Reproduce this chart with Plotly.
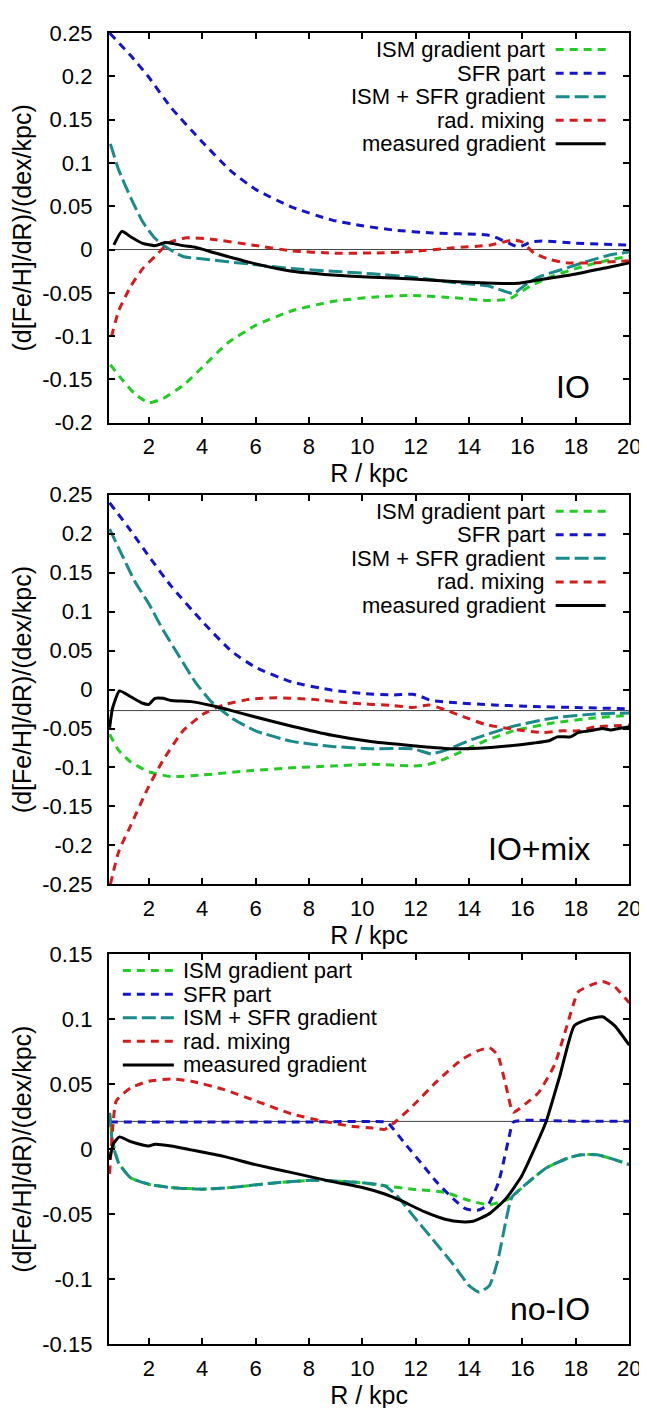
import plotly.graph_objects as go

# ---------------- data ----------------
# Panel 1 (IO)
p1_R_ism = [0.56, 1.02, 1.47, 2.0, 2.53, 3.28, 4.04, 4.95, 6.0, 7.36, 8.87, 10.38, 11.89, 13.4, 14.76, 15.52, 16.3, 17.2, 18.0, 18.7, 19.4, 20.0]
p1_ism = [-0.133, -0.151, -0.1665, -0.177, -0.172, -0.157, -0.135, -0.108, -0.0876, -0.0707, -0.060, -0.055, -0.053, -0.0556, -0.059, -0.057, -0.042, -0.030, -0.022, -0.016, -0.011, -0.008]
p1_R_sfr = [0.53, 1.32, 2.0, 2.83, 4.01, 5.10, 6.0, 7.36, 8.87, 10.0, 11.14, 12.65, 14.61, 14.92, 15.37, 15.85, 16.35, 16.73, 17.94, 20.0]
p1_sfr = [0.250, 0.224, 0.199, 0.164, 0.124, 0.090, 0.0695, 0.049, 0.034, 0.0275, 0.0226, 0.019, 0.017, 0.015, 0.009, 0.003, 0.009, 0.010, 0.0075, 0.005]
p1_R_tot = [0.56, 0.87, 1.32, 1.77, 2.23, 2.68, 3.28, 4.04, 5.85, 7.36, 8.87, 10.38, 11.89, 13.4, 14.69, 15.22, 15.67, 16.05, 16.58, 17.48, 18.39, 19.3, 20.0]
p1_tot = [0.122, 0.092, 0.060, 0.032, 0.013, 0.002, -0.008, -0.011, -0.017, -0.022, -0.025, -0.028, -0.032, -0.038, -0.042, -0.047, -0.051, -0.042, -0.032, -0.023, -0.014, -0.006, -0.003]
p1_R_mix = [0.6, 0.87, 1.32, 1.77, 2.23, 2.53, 2.83, 3.43, 4.34, 5.85, 7.36, 8.87, 10.38, 11.89, 13.4, 14.76, 15.67, 15.97, 16.43, 17.04, 17.63, 18.69, 20.0]
p1_mix = [-0.1007, -0.0707, -0.0425, -0.022, -0.008, 0.0015, 0.009, 0.0135, 0.012, 0.0053, -0.0015, -0.0041, -0.004, -0.0023, 0.002, 0.005, 0.011, 0.009, -0.004, -0.0117, -0.0154, -0.0154, -0.0128]
p1_R_meas = [0.69, 0.99, 1.32, 1.77, 2.23, 2.6, 2.9, 3.28, 3.74, 4.49, 5.85, 7.36, 8.87, 10.38, 11.89, 13.4, 14.92, 15.82, 16.43, 17.94, 19.15, 20.0]
p1_meas = [0.0053, 0.021, 0.0147, 0.0071, 0.0045, 0.008, 0.0071, 0.0045, 0.0026, -0.004, -0.0154, -0.025, -0.0293, -0.032, -0.034, -0.037, -0.039, -0.039, -0.036, -0.0286, -0.021, -0.0154]
p1_ref = 0.0

# Panel 2 (IO+mix)
p2_R_ism = [0.53, 0.87, 1.32, 2.0, 2.83, 4.01, 5.85, 7.36, 8.87, 10.38, 11.89, 12.34, 12.95, 13.7, 14.61, 15.67, 17.18, 18.69, 20.0]
p2_ism = [-0.0573, -0.078, -0.093, -0.1054, -0.1117, -0.1096, -0.104, -0.1004, -0.098, -0.096, -0.098, -0.097, -0.091, -0.080, -0.0657, -0.053, -0.0427, -0.0364, -0.033]
p2_R_sfr = [0.53, 1.32, 2.0, 2.83, 4.01, 5.10, 6.0, 7.36, 8.87, 10.0, 11.14, 11.89, 12.2, 12.57, 13.4, 14.92, 16.43, 17.94, 20.0]
p2_sfr = [0.2397, 0.204, 0.171, 0.133, 0.087, 0.049, 0.0285, 0.0096, -0.0008, -0.005, -0.007, -0.006, -0.009, -0.014, -0.0167, -0.0197, -0.0218, -0.023, -0.0247]
p2_R_tot = [0.53, 1.02, 1.47, 2.0, 2.53, 3.13, 3.74, 4.34, 5.10, 6.0, 7.36, 8.87, 10.38, 11.89, 12.57, 13.1, 14.15, 15.67, 17.18, 18.69, 20.0]
p2_tot = [0.206, 0.171, 0.139, 0.110, 0.0766, 0.043, 0.0096, -0.0155, -0.0364, -0.053, -0.0665, -0.073, -0.076, -0.076, -0.0824, -0.078, -0.0636, -0.0469, -0.0364, -0.0314, -0.030]
p2_R_mix = [0.56, 0.87, 1.32, 2.0, 2.53, 3.28, 4.04, 4.80, 5.85, 6.76, 8.1, 9.61, 11.14, 11.89, 12.5, 13.1, 13.85, 14.61, 15.67, 16.73, 17.48, 18.09, 18.69, 20.0]
p2_mix = [-0.25, -0.208, -0.1745, -0.124, -0.091, -0.053, -0.0314, -0.0197, -0.0121, -0.0105, -0.0126, -0.0176, -0.0205, -0.023, -0.0197, -0.026, -0.0356, -0.0448, -0.051, -0.0552, -0.053, -0.053, -0.048, -0.0456]
p2_R_meas = [0.53, 0.64, 0.9, 1.32, 1.77, 2.0, 2.23, 2.53, 2.83, 3.59, 4.34, 5.10, 5.85, 7.36, 8.87, 10.38, 11.89, 13.4, 14.92, 16.43, 17.0, 17.3, 17.8, 18.1, 18.5, 19.0, 19.3, 19.6, 20.0]
p2_meas = [-0.049, -0.024, -0.0017, -0.0092, -0.0176, -0.019, -0.0113, -0.0113, -0.014, -0.0155, -0.0205, -0.027, -0.034, -0.047, -0.0586, -0.067, -0.072, -0.076, -0.074, -0.0686, -0.0657, -0.0607, -0.0607, -0.055, -0.053, -0.050, -0.052, -0.050, -0.048]
p2_ref = -0.027

# Panel 3 (no-IO)
p3_R_ism = [0.53, 0.64, 0.87, 1.32, 2.0, 2.83, 4.01, 5.10, 6.6, 8.1, 9.6, 10.84, 11.89, 13.1, 14.0, 14.76, 15.5, 16.2, 16.9, 17.7, 18.2, 18.8, 19.45, 20.0]
p3_ism = [0.028, 0.007, -0.0106, -0.0219, -0.0269, -0.0294, -0.0307, -0.0294, -0.0261, -0.0239, -0.0251, -0.0281, -0.0307, -0.0332, -0.0394, -0.0427, -0.038, -0.0256, -0.0143, -0.0068, -0.0043, -0.0043, -0.008, -0.0118]
p3_R_sfr = [0.53, 4.0, 8.0, 10.84, 10.99, 11.59, 12.2, 12.8, 13.4, 13.86, 14.3, 14.7, 15.1, 15.5, 15.67, 18.0, 20.0]
p3_sfr = [0.021, 0.021, 0.021, 0.021, 0.0196, 0.0045, -0.0106, -0.0256, -0.038, -0.0457, -0.047, -0.043, -0.0256, 0.0095, 0.021, 0.0215, 0.0216]
p3_R_tot = [0.53, 0.64, 0.87, 1.32, 2.0, 2.83, 4.01, 5.10, 6.6, 8.1, 9.6, 10.84, 11.29, 11.89, 12.65, 13.4, 14.0, 14.38, 14.76, 15.07, 15.37, 15.6, 16.2, 16.9, 17.7, 18.2, 18.8, 19.45, 20.0]
p3_tot = [0.028, 0.0045, -0.0106, -0.022, -0.0269, -0.0294, -0.0307, -0.0294, -0.0261, -0.0239, -0.0251, -0.0281, -0.0357, -0.0508, -0.0696, -0.0884, -0.1048, -0.1098, -0.1048, -0.0859, -0.0558, -0.037, -0.0256, -0.0143, -0.0068, -0.0043, -0.0043, -0.008, -0.0118]
p3_R_mix = [0.53, 0.64, 0.78, 1.32, 2.0, 2.83, 3.59, 4.80, 6.0, 7.36, 8.57, 9.6, 10.38, 10.84, 11.29, 11.89, 12.8, 13.7, 14.3, 14.76, 15.07, 15.37, 15.65, 16.1, 16.6, 17.2, 17.63, 18.09, 18.54, 19.0, 19.45, 20.0]
p3_mix = [-0.019, 0.0146, 0.0372, 0.0472, 0.0523, 0.054, 0.0523, 0.046, 0.0372, 0.0271, 0.0214, 0.0176, 0.0163, 0.0153, 0.0221, 0.0334, 0.0523, 0.0686, 0.0754, 0.0779, 0.0724, 0.0497, 0.0284, 0.0347, 0.0435, 0.0648, 0.0925, 0.121, 0.126, 0.129, 0.125, 0.1126]
p3_R_meas = [0.53, 0.68, 0.9, 1.32, 1.77, 2.0, 2.23, 2.83, 3.59, 4.80, 6.0, 7.36, 8.87, 10.0, 10.84, 11.44, 12.34, 13.1, 13.7, 14.15, 14.76, 15.37, 15.97, 16.43, 16.88, 17.41, 17.94, 18.39, 19.0, 19.45, 20.0]
p3_meas = [-0.008, 0.0045, 0.0095, 0.0058, 0.0033, 0.0025, 0.0038, 0.0025, -0.0005, -0.0055, -0.0118, -0.018, -0.0249, -0.0294, -0.0344, -0.0394, -0.0482, -0.0538, -0.0558, -0.0553, -0.0495, -0.0382, -0.0206, -0.0005, 0.0209, 0.0573, 0.095, 0.0995, 0.1018, 0.095, 0.080]
p3_ref = 0.0214

series_names = ["ISM gradient part", "SFR part", "ISM + SFR gradient", "rad. mixing", "measured gradient"]
panel_labels = ["IO", "IO+mix", "no-IO"]
x_ticks = [2, 4, 6, 8, 10, 12, 14, 16, 18, 20]
y_ticks = [
    [0.25, 0.2, 0.15, 0.1, 0.05, 0, -0.05, -0.1, -0.15, -0.2],
    [0.25, 0.2, 0.15, 0.1, 0.05, 0, -0.05, -0.1, -0.15, -0.2, -0.25],
    [0.15, 0.1, 0.05, 0, -0.05, -0.1, -0.15],
]
y_ticktext = [
    ["0.25", "0.2", "0.15", "0.1", "0.05", "0", "-0.05", "-0.1", "-0.15", "-0.2"],
    ["0.25", "0.2", "0.15", "0.1", "0.05", "0", "-0.05", "-0.1", "-0.15", "-0.2", "-0.25"],
    ["0.15", "0.1", "0.05", "0", "-0.05", "-0.1", "-0.15"],
]
y_ranges = [[-0.2, 0.25], [-0.25, 0.25], [-0.15, 0.15]]
x_range = [0.5, 20]

# ---------------- styling ----------------
W, H = 647, 1408
FONT = "Liberation Sans, Arial, Helvetica, sans-serif"
colors = ["#22cc22", "#1414cc", "#1a8a8a", "#d41c1c", "#000000"]
dashes = ["8px,6px", "8px,6px", "14px,5px", "8px,6px", "solid"]
widths = [3, 3, 3, 3, 3]
TICK_SIZE = 22
LEG_SIZE = 22
TITLE_SIZE = 25

# plot-area pixel geometry
px_left, px_right = 102.7, 633.0
panel_px = [(13.3, 410.0), (483.3, 880.0), (951.0, 1348.3)]

panels = [
    dict(R=[p1_R_ism, p1_R_sfr, p1_R_tot, p1_R_mix, p1_R_meas], V=[p1_ism, p1_sfr, p1_tot, p1_mix, p1_meas], ref=p1_ref, legend="right"),
    dict(R=[p2_R_ism, p2_R_sfr, p2_R_tot, p2_R_mix, p2_R_meas], V=[p2_ism, p2_sfr, p2_tot, p2_mix, p2_meas], ref=p2_ref, legend="right"),
    dict(R=[p3_R_ism, p3_R_sfr, p3_R_tot, p3_R_mix, p3_R_meas], V=[p3_ism, p3_sfr, p3_tot, p3_mix, p3_meas], ref=p3_ref, legend="left"),
]

fig = go.Figure()
layout = dict(
    width=W, height=H,
    margin=dict(l=0, r=0, t=0, b=0),
    paper_bgcolor="white", plot_bgcolor="white",
    showlegend=False,
    font=dict(family=FONT, size=TICK_SIZE, color="black"),
)
annotations = []
shapes = []

for i, p in enumerate(panels):
    n = "" if i == 0 else str(i + 1)
    xa, ya = "x" + n, "y" + n
    top, bot = panel_px[i]
    # reference line
    fig.add_trace(go.Scatter(x=x_range, y=[p["ref"], p["ref"]], mode="lines",
                             line=dict(color="#444444", width=1), xaxis=xa, yaxis=ya,
                             hoverinfo="skip"))
    for k in range(5):
        fig.add_trace(go.Scatter(
            x=p["R"][k], y=p["V"][k], mode="lines", name=series_names[k],
            line=dict(color=colors[k], width=widths[k], dash=dashes[k],
                      shape="spline", smoothing=0.5),
            xaxis=xa, yaxis=ya))
    layout["xaxis" + n] = dict(
        domain=[px_left / W, px_right / W], anchor=ya, range=x_range,
        tickvals=x_ticks, ticktext=[str(t) for t in x_ticks],
        ticks="inside", ticklen=6, tickwidth=1.5, tickcolor="black",
        showline=True, linewidth=2, linecolor="black", mirror="ticks",
        showgrid=False, zeroline=False,
        tickfont=dict(family=FONT, size=TICK_SIZE),
        ticklabelstandoff=3,
        title=dict(text="R / kpc", font=dict(family=FONT, size=TITLE_SIZE), standoff=4),
    )
    layout["yaxis" + n] = dict(
        domain=[1 - bot / H, 1 - top / H], anchor=xa, range=y_ranges[i],
        tickvals=y_ticks[i], ticktext=y_ticktext[i],
        ticks="inside", ticklen=6, tickwidth=1.5, tickcolor="black",
        showline=True, linewidth=2, linecolor="black", mirror="ticks",
        showgrid=False, zeroline=False,
        tickfont=dict(family=FONT, size=TICK_SIZE),
        ticklabelstandoff=10,
        title=dict(text="(d[Fe/H]/dR)/(dex/kpc)", font=dict(family=FONT, size=TITLE_SIZE), standoff=6),
    )
    ph = bot - top
    pw = px_right - px_left
    # manual legend (text + line sample)
    for k in range(5):
        yd = 1 - (16.8 + 24.0 * k) / ph
        if p["legend"] == "right":
            tx, xanchor = (549 - px_left) / pw, "right"
            lx0, lx1 = (558 - px_left) / pw, (609 - px_left) / pw
        else:
            tx, xanchor = (176 - px_left) / pw, "left"
            lx0, lx1 = (117 - px_left) / pw, (169 - px_left) / pw
        annotations.append(dict(
            x=tx, y=yd, xref=xa + " domain", yref=ya + " domain",
            text=series_names[k], showarrow=False, xanchor=xanchor, yanchor="middle",
            font=dict(family=FONT, size=LEG_SIZE, color="black")))
        shapes.append(dict(
            type="line", x0=lx0, x1=lx1, y0=yd, y1=yd,
            xref=xa + " domain", yref=ya + " domain",
            line=dict(color=colors[k], width=widths[k], dash=dashes[k])))
    # panel label
    annotations.append(dict(
        x=(595 - px_left) / pw, y=36 / ph, xref=xa + " domain", yref=ya + " domain",
        text=panel_labels[i], showarrow=False, xanchor="right", yanchor="middle",
        font=dict(family=FONT, size=32, color="black")))

layout["annotations"] = annotations
layout["shapes"] = shapes
fig.update_layout(**layout)
fig.write_html("out.html")
